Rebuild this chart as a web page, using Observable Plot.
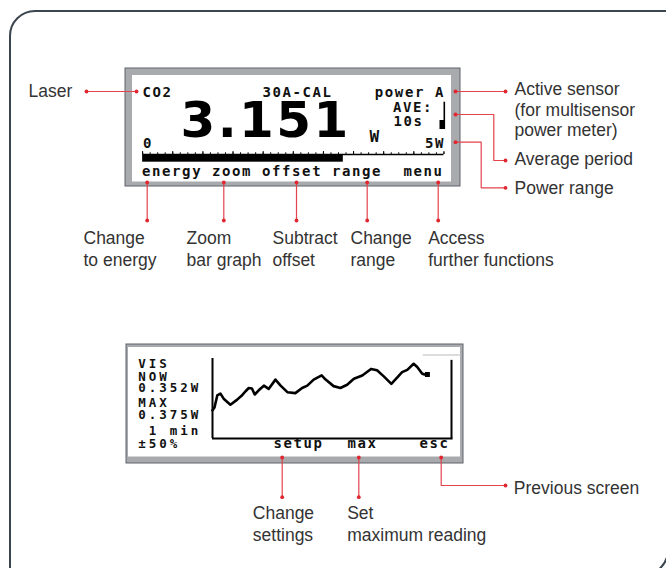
<!DOCTYPE html>
<html><head><meta charset="utf-8">
<script src="https://cdn.jsdelivr.net/npm/d3@7"></script>
<script src="https://cdn.jsdelivr.net/npm/@observablehq/plot@0.6"></script>
<style>
html,body{margin:0;padding:0;background:#fff;}
#wrap{position:relative;width:666px;height:568px;overflow:hidden;background:#fff;}
#frame{position:absolute;left:9px;top:10px;width:660px;height:566px;box-sizing:border-box;border:2.5px solid #3b4650;border-radius:26px 0 26px 0;pointer-events:none;}
</style></head><body><div id="wrap"></div>
<script>
// ---------------- DATA ----------------
const lcdTopRow = ["CO2", "30A-CAL", "power A"];
const lcdReading = "3.151";
const lcdUnit = "W";
const lcdAverage = ["AVE:", "10s"];
const lcdScale = ["0", "5W"];
const barScale = [0, 5];
const barReading = 3.33;
const softKeys = ["energy", "zoom", "offset", "range", "menu"];
const softKeyHelp = [["Change", "to energy"], ["Zoom", "bar graph"], ["Subtract", "offset"], ["Change", "range"], ["Access", "further functions"]];
const sideLabels = [["Laser"], ["Active sensor", "(for multisensor", "power meter)"], ["Average period"], ["Power range"]];
const graphReadout = ["VIS", "NOW", "0.352W", "MAX", "0.375W", " 1 min", "±50%"];
const graphKeys = ["setup", "max", "esc"];
const graphKeyHelp = [["Change", "settings"], ["Set", "maximum reading"], ["Previous screen"]];
const traceWindow = [0, 60]; // seconds (1 min)
const traceRange = [0.2144, 0.3864]; // W
const traceTime = [0, 0.5, 1.2, 2.0, 2.8, 4.5, 6.2, 7.5, 8.3, 9.1, 9.9, 10.6, 11.6, 12.9, 14.1, 15.8, 17.1, 18.8, 20.8, 22.5, 23.8, 25.4, 27.4, 28.4, 30.4, 32.1, 33.8, 35.5, 37.6, 39.8, 41.3, 43.0, 44.9, 46.4, 47.6, 48.9, 50.5, 51.4, 52.6, 53.2];
const tracePower = [0.275, 0.281, 0.307, 0.311, 0.300, 0.287, 0.298, 0.308, 0.316, 0.323, 0.322, 0.309, 0.318, 0.328, 0.321, 0.341, 0.328, 0.314, 0.312, 0.323, 0.328, 0.341, 0.350, 0.341, 0.327, 0.323, 0.330, 0.343, 0.350, 0.364, 0.361, 0.348, 0.332, 0.346, 0.357, 0.362, 0.375, 0.368, 0.354, 0.352];

// ---------------- LAYOUT ----------------
const W = 666, H = 568;
const RED = "#e0262f", REDLINE = "#e2434d", INK = "#333333";
const LCD = "DejaVu Sans Mono", LABEL = "Liberation Sans";
const topBezel = {x1: 125, x2: 460, y1: 68, y2: 186};
const topScreen = {x1: 132, x2: 451, y1: 75, y2: 181.5};
const botBezel = {x1: 126, x2: 463, y1: 344, y2: 463};
const botScreen = {x1: 128, x2: 460, y1: 347, y2: 456.5};
const topRowPos = [{x: 142, a: "start"}, {x: 297, a: "middle"}, {x: 444.5, a: "end"}];
const softKeyX = [141.5, 211.5, 261.5, 331.5, 403];
const softCalloutX = [146.7, 223.3, 296, 366.7, 437.7];
const softHelpX = [83, 186, 272, 350, 427.7];
const readoutY = [367.3, 380.7, 391.5, 406.7, 418.3, 434, 447.7];
const graphKeyX = [273, 347, 419];
const graphCalloutX = [281.7, 358.3];
const sidePos = [{x: 28, y: [96]}, {x: 514, y: [94, 115, 135.5]}, {x: 514, y: [164]}, {x: 514, y: [193]}];

const callouts = [
  [[86, 91], [136, 91]],
  [[455, 91], [505, 91]],
  [[455, 114], [493.3, 114], [493.3, 160], [505, 160]],
  [[455, 141.7], [480.7, 141.7], [480.7, 187.3], [505, 187.3]],
  ...softCalloutX.map(x => [[x, 182], [x, 220]]),
  ...graphCalloutX.map(x => [[x, 457], [x, 496.7]]),
  [[440.7, 457], [440.7, 485], [505, 485]]
];
const lineRows = callouts.flatMap((c, i) => c.map(([x, y]) => ({x, y, id: i})));
const dotRows = callouts.flatMap(c => [c[0], c[c.length - 1]]).map(([x, y]) => ({x, y}));

// text rows
const lcdStart = [], lcdMid = [], lcdEnd = [];
lcdTopRow.forEach((t, i) => {
  const r = {text: t, x: topRowPos[i].x, y: 96.5};
  (topRowPos[i].a === "start" ? lcdStart : topRowPos[i].a === "middle" ? lcdMid : lcdEnd).push(r);
});
lcdStart.push({text: lcdAverage[0], x: 392.5, y: 111.5});
lcdStart.push({text: lcdAverage[1], x: 393, y: 125.7});
lcdStart.push({text: lcdScale[0], x: 142.5, y: 147});
lcdEnd.push({text: lcdScale[1], x: 444.5, y: 147});
softKeys.forEach((t, i) => lcdStart.push({text: t, x: softKeyX[i], y: 175}));
graphKeys.forEach((t, i) => lcdStart.push({text: t, x: graphKeyX[i], y: 447.7}));
const readRows = graphReadout.map((t, i) => ({text: t, x: 137.7, y: readoutY[i]}));

const labelRows = [];
sideLabels.forEach((lines, i) => lines.forEach((t, j) => labelRows.push({text: t, x: sidePos[i].x, y: sidePos[i].y[j]})));
softKeyHelp.forEach((lines, i) => lines.forEach((t, j) => labelRows.push({text: t, x: softHelpX[i], y: [243.3, 265][j]})));
const gkX = [252.3, 346.7, 513.3];
graphKeyHelp.forEach((lines, i) => lines.forEach((t, j) => labelRows.push({text: t, x: gkX[i], y: i === 2 ? 493.3 : [518.3, 540.7][j]})));

const T = (rows, opts) => Plot.text(rows, {x: "x", y: "y", text: "text", lineAnchor: "bottom", ...opts});
const R = (o, opts) => Plot.rect([o], {x1: "x1", x2: "x2", y1: "y1", y2: "y2", ...opts});

const main = Plot.plot({
  width: W, height: H, margin: 0,
  x: {domain: [0, W], range: [0, W], axis: null},
  y: {domain: [0, H], range: [0, H], axis: null},
  marks: [
    R(topBezel, {fill: "#a8aaae", stroke: "#5f636a", strokeWidth: 1}),
    R(topScreen, {fill: "#ffffff"}),
    R(botBezel, {fill: "#a8aaae", stroke: "#5f636a", strokeWidth: 1}),
    R(botScreen, {fill: "#ffffff"}),
    Plot.line([{x: 423, y: 354.5}, {x: 459, y: 354.5}], {x: "x", y: "y", stroke: "#dcdcdc", strokeWidth: 2}),
    T(lcdStart, {textAnchor: "start", fontFamily: LCD, fontWeight: "bold", fontSize: 14, fill: "#111"}),
    T(lcdMid, {textAnchor: "middle", fontFamily: LCD, fontWeight: "bold", fontSize: 14, fill: "#111"}),
    T(lcdEnd, {textAnchor: "end", fontFamily: LCD, fontWeight: "bold", fontSize: 14, fill: "#111"}),
    T(readRows, {textAnchor: "start", fontFamily: LCD, fontWeight: "bold", fontSize: 12.5, fill: "#111"}),
    T([{text: lcdReading, x: 180, y: 136.5}], {textAnchor: "start", fontFamily: "DejaVu Sans", fontWeight: "bold", fontSize: 50, fill: "#000"}),
    T([{text: lcdUnit, x: 369, y: 141}], {textAnchor: "start", fontFamily: LCD, fontWeight: "bold", fontSize: 16, fill: "#111"}),
    Plot.ruleX([443.8], {y1: 101.7, y2: 129, stroke: "#000", strokeWidth: 1.6}),
    Plot.rect([{x1: 439.5, x2: 445, y1: 120, y2: 129}], {x1: "x1", x2: "x2", y1: "y1", y2: "y2", fill: "#000"}),
    Plot.line(lineRows, {x: "x", y: "y", z: "id", stroke: REDLINE, strokeWidth: 1.2}),
    Plot.dot(dotRows, {x: "x", y: "y", r: 1.9, fill: RED}),
    T(labelRows, {textAnchor: "start", fontFamily: LABEL, fontSize: 17.5, fill: INK})
  ]
});
const sel = d3.select(main);
sel.selectAll("g[font-family='DejaVu Sans Mono'][font-size='14']").attr("letter-spacing", 1.6);
sel.selectAll("g[font-family='DejaVu Sans Mono'][font-size='12.5']").attr("letter-spacing", 3);
sel.selectAll("g[font-family='DejaVu Sans'][font-size='50']").attr("letter-spacing", 2.4);

// bar graph of top display
const barLeft = 141.7, barRight = 443.3, barM = 5;
const minorTicks = d3.range(0, 40.001).map(i => barScale[0] + i * (barScale[1] - barScale[0]) / 40);
const majorTicks = d3.range(0, 10.001).map(i => barScale[0] + i * (barScale[1] - barScale[0]) / 10);
const bar = Plot.plot({
  width: barRight - barLeft + 2 * barM, height: 18, marginLeft: barM, marginRight: barM, marginTop: 0, marginBottom: 0,
  x: {domain: barScale, axis: null},
  y: {domain: [0, 18], range: [0, 18], axis: null},
  marks: [
    Plot.ruleX(minorTicks, {y1: 4.3, y2: 6, stroke: "#000", strokeWidth: 1}),
    Plot.ruleX(majorTicks, {y1: 3, y2: 6, stroke: "#000", strokeWidth: 1}),
    Plot.ruleY([6], {x1: barScale[0], x2: barScale[1], stroke: "#000", strokeWidth: 1.4}),
    Plot.rect([barReading], {x1: barScale[0], x2: d => d, y1: 7, y2: 13.7, fill: "#000"})
  ]
});

// trace graph of bottom display
const tM = 4;
const traceRows = traceTime.map((t, i) => ({t, p: tracePower[i]}));
const trace = Plot.plot({
  width: 239 + 2 * tM, height: 80 + 2 * tM, margin: tM,
  x: {domain: traceWindow, axis: null},
  y: {domain: traceRange, axis: null},
  marks: [
    Plot.ruleX([traceWindow[0]], {y1: traceRange[0], y2: traceRange[1], stroke: "#000", strokeWidth: 2}),
    Plot.ruleX([traceWindow[1]], {y1: traceRange[0], y2: traceRange[1] - 0.004, stroke: "#000", strokeWidth: 2}),
    Plot.ruleY([traceRange[0]], {x1: traceWindow[0], x2: traceWindow[1] + 0.4, stroke: "#000", strokeWidth: 2}),
    Plot.line(traceRows, {x: "t", y: "p", stroke: "#000", strokeWidth: 2.6, strokeLinejoin: "round", curve: "linear"}),
    Plot.dot([traceRows[traceRows.length - 1]], {x: "t", y: "p", symbol: "square", r: 2.8, fill: "#000", dx: 3})
  ]
});

const wrap = document.getElementById("wrap");
function place(svg, left, top) {
  svg.style.position = "absolute"; svg.style.left = left + "px"; svg.style.top = top + "px";
  svg.style.background = "transparent"; svg.style.maxWidth = "none"; svg.style.overflow = "visible";
  wrap.appendChild(svg);
}
place(main, 0, 0);
place(bar, barLeft - barM, 148);
place(trace, 212 - tM, 358 - tM);
const frame = document.createElement("div"); frame.id = "frame"; wrap.appendChild(frame);
</script></body></html>
